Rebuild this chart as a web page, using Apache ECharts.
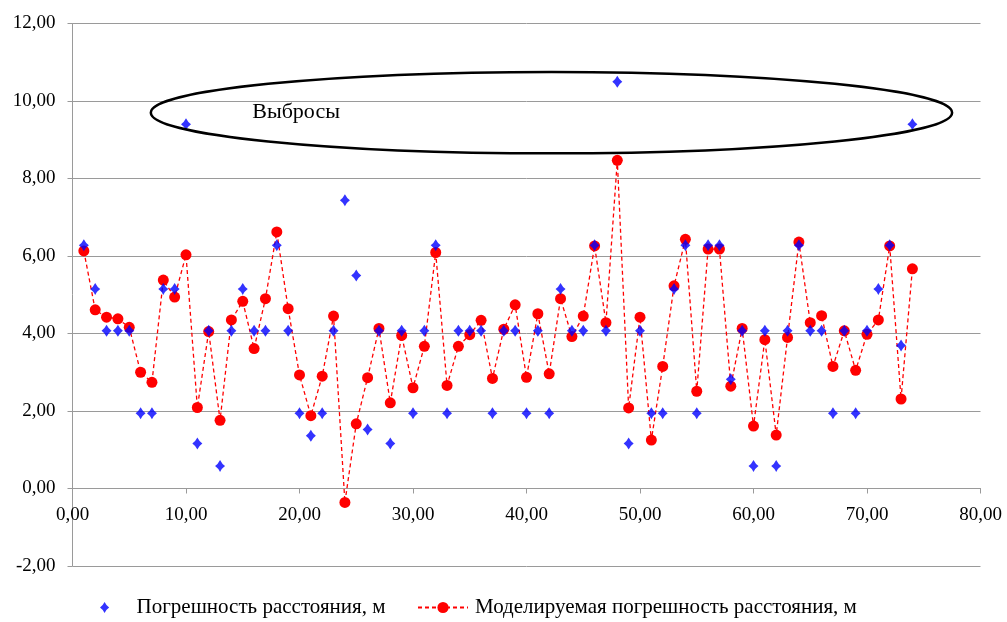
<!DOCTYPE html>
<html><head><meta charset="utf-8">
<script src="https://cdn.jsdelivr.net/npm/echarts@6/dist/echarts.min.js"></script>
<style>html,body{margin:0;padding:0;background:#fff}#c{width:1007px;height:622px}</style>
</head><body><div id="c"></div>
<script>
const xValues = [1,2,3,4,5,6,7,8,9,10,11,12,13,14,15,16,17,18,19,20,21,22,23,24,25,26,27,28,29,30,31,32,33,34,35,36,37,38,39,40,41,42,43,44,45,46,47,48,49,50,51,52,53,54,55,56,57,58,59,60,61,62,63,64,65,66,67,68,69,70,71,72,73,74];
const measuredError = [6.28,5.15,4.07,4.07,4.07,1.94,1.94,5.15,5.15,9.40,1.16,4.07,0.58,4.07,5.15,4.07,4.07,6.28,4.07,1.94,1.36,1.94,4.07,7.44,5.50,1.52,4.07,1.16,4.07,1.94,4.07,6.28,1.94,4.07,4.07,4.07,1.94,4.07,4.07,1.94,4.07,1.94,5.15,4.07,4.07,6.28,4.07,10.50,1.16,4.07,1.94,1.94,5.15,6.28,1.94,6.28,6.28,2.82,4.07,0.58,4.07,0.58,4.07,6.28,4.07,4.07,1.94,4.07,1.94,4.07,5.15,6.28,3.69,9.40];
const modeledError = [6.13,4.61,4.42,4.38,4.16,3.00,2.74,5.38,4.94,6.03,2.09,4.05,1.76,4.35,4.83,3.61,4.90,6.62,4.64,2.93,1.88,2.90,4.45,-0.36,1.67,2.86,4.13,2.21,3.95,2.60,3.67,6.09,2.66,3.67,3.97,4.34,2.84,4.11,4.74,2.87,4.51,2.96,4.90,3.92,4.45,6.26,4.28,8.47,2.08,4.42,1.25,3.15,5.23,6.43,2.51,6.18,6.18,2.64,4.13,1.61,3.84,1.38,3.90,6.36,4.28,4.46,3.15,4.07,3.05,3.98,4.35,6.26,2.31,5.67];
const seriesNames = ['Погрешность расстояния, м', 'Моделируемая погрешность расстояния, м'];
const annotationText = 'Выбросы';

const FONT = '"Liberation Serif", "DejaVu Serif", serif';
const fmt = v => v.toFixed(2).replace('.', ',');
const Y_MIN = -2, Y_MAX = 12;
const gridTop = 23.5, gridBottom = 56, H = 622;
const unitPx = (H - gridTop - gridBottom) / (Y_MAX - Y_MIN);
const STAR = 'path://M0,-6 Q2,-2 5,0 Q2,2 0,6 Q-2,2 -5,0 Q-2,-2 0,-6 Z';
const chart = echarts.init(document.getElementById('c'), null, {renderer: 'canvas'});
chart.setOption({
  animation: false,
  backgroundColor: '#fff',
  textStyle: {fontFamily: FONT, color: '#000'},
  grid: {left: 72.5, right: 26.5, top: gridTop, bottom: gridBottom, containLabel: false},
  xAxis: {
    type: 'value', min: 0, max: 80, interval: 10,
    position: 'bottom',
    offset: -(0 - Y_MIN) * unitPx,
    axisLine: {onZero: false, lineStyle: {color: '#9a9a9a', width: 1}},
    axisTick: {show: true, length: 5, lineStyle: {color: '#9a9a9a'}},
    axisLabel: {formatter: fmt, fontSize: 19, fontFamily: FONT, color: '#000', margin: 17},
    splitLine: {show: false}
  },
  yAxis: {
    type: 'value', min: Y_MIN, max: Y_MAX, interval: 2,
    axisLine: {show: true, lineStyle: {color: '#9a9a9a', width: 1}},
    axisTick: {show: true, length: 5, lineStyle: {color: '#9a9a9a'}},
    axisLabel: {formatter: fmt, fontSize: 19, fontFamily: FONT, color: '#000', margin: 17},
    splitLine: {show: true, lineStyle: {color: '#9a9a9a', width: 1}}
  },
  legend: [
    {data: [seriesNames[0]], left: 95, top: 592, itemWidth: 10, itemHeight: 11,
     textStyle: {fontSize: 21, fontFamily: FONT, color: '#000', padding: [0,0,0,22]}},
    {data: [seriesNames[1]], left: 412, top: 592, itemWidth: 50, itemHeight: 14,
     textStyle: {fontSize: 21, fontFamily: FONT, color: '#000', padding: [0,0,0,2]}}
  ],
  series: [
    {
      name: seriesNames[1], type: 'line',
      data: xValues.map((x, i) => [x, modeledError[i]]),
      symbol: 'circle', symbolSize: 11,
      itemStyle: {color: '#ff0000'},
      lineStyle: {color: '#ff0000', width: 1.3, type: [4, 3]},
      z: 2
    },
    {
      name: seriesNames[0], type: 'scatter',
      data: xValues.map((x, i) => [x, measuredError[i]]),
      symbol: STAR, symbolSize: [10, 12],
      itemStyle: {color: '#0000ff'},
      z: 3
    }
  ]
});
const c = chart.convertToPixel({gridIndex: 0}, [42.2, 9.7]);
const e = chart.convertToPixel({gridIndex: 0}, [42.2 + 35.3, 9.7 - 1.05]);
const t = chart.convertToPixel({gridIndex: 0}, [19.7, 9.72]);
chart.setOption({
  graphic: [
    {type: 'ellipse', shape: {cx: c[0], cy: c[1], rx: e[0] - c[0], ry: e[1] - c[1]},
     style: {fill: 'none', stroke: '#000', lineWidth: 2.5}, z: 10},
    {type: 'text', x: t[0], y: t[1], style: {text: annotationText, font: '22px ' + FONT, fill: '#000', textAlign: 'center', textVerticalAlign: 'middle'}, z: 11}
  ]
});
</script>
</body></html>
